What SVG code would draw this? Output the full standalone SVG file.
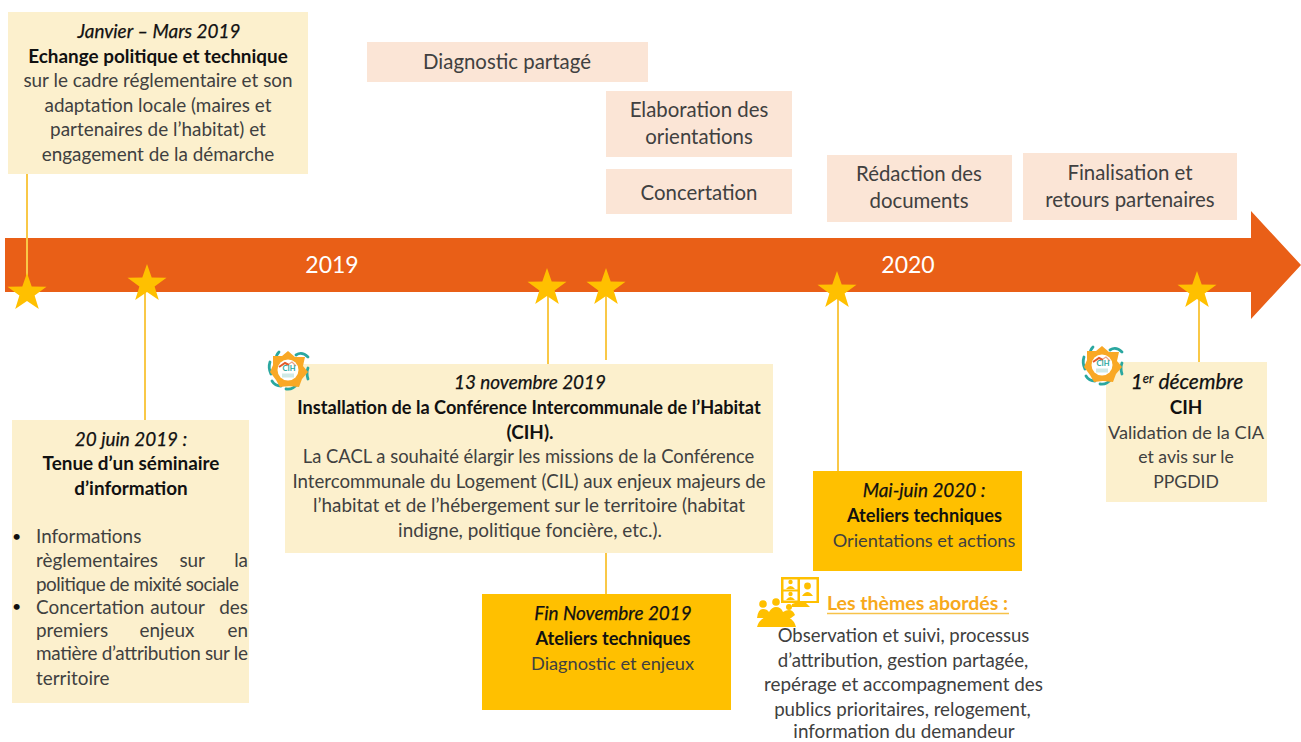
<svg xmlns="http://www.w3.org/2000/svg" xmlns:xlink="http://www.w3.org/1999/xlink" width="1301" height="742" viewBox="0 0 1301 742">
<style>
text{font-family:Lato,"Liberation Sans",sans-serif;font-size:18.9px;fill:#404040}
.c{text-anchor:middle}
.e{text-anchor:end}
.b{font-weight:700;fill:#111}
.i{font-style:italic;fill:#111;stroke:#111;stroke-width:.25px}
.y{fill:#fff}
.pk{fill:#fbe5d6}
.pt{font-size:20.4px}
.s{font-size:18.2px}
.cr{fill:#fcf0cd}
.go{fill:#ffc000}
.ln{stroke:#f9c847;stroke-width:2;fill:none}
</style>
<defs>
<polygon id="star" points="0,-20 4.7,-6.500 19.500,-6.200 7.600,2.500 11.800,16 0,8 -11.800,16 -7.600,2.500 -19.500,-6.200 -4.700,-6.500" fill="#ffc000"/>
<g id="logo">
<g fill="none" stroke="#2aa7a0" stroke-width="2.800" stroke-linecap="round">
<path d="M-9,-18Q-12,-15-12,-11"/>
<path d="M8,-15Q14,-19 20,-13"/>
<path d="M-18,-8Q-20,-2-17,4"/>
<path d="M20,-2Q18,3 20,9"/>
<path d="M-16,11Q-13,16-7,16"/>
<path d="M-2,19Q5,20 9,14"/>
</g>
<polygon points="0,-19 7,-13 17,-13 15,-4 20,2 14,9 11,17 1,16 -8,17 -12,10 -18,2 -15,-5 -15,-14 -6,-14" fill="#f9a825"/>
<circle r="10.500" fill="#fff"/>
<path d="M-9,-3L-3,-7L1,-5" fill="none" stroke="#e3592b" stroke-width="2"/>
<path d="M1,-6L4,-8L8,-4" fill="none" stroke="#e8a38a" stroke-width="1.200"/>
<text x="1" y="1" class="c" style="font-size:7.500px;font-weight:700;fill:#2aa7a0">CIH</text>
<rect x="-6" y="3.500" width="12" height="4" fill="#cfe9e6"/>
</g>
</defs>

<g id="timeline-arrow">
<path d="M5,238H1251V211L1301,265L1251,319V292H5Z" fill="#e95f17"/>
<text x="332" y="273" class="c y" style="font-size:23px;fill:#fff">2019</text>
<text x="908" y="273" class="c y" style="font-size:23px;fill:#fff">2020</text>
</g>

<g id="connectors">
<path class="ln" d="M27,174V285"/>
<path class="ln" d="M145,290V420"/>
<path class="ln" d="M548,295V364"/>
<path class="ln" d="M606,295V360"/>
<path class="ln" d="M606,552V594"/>
<path class="ln" d="M838,296V471"/>
<path class="ln" d="M1199,296V362"/>
</g>

<g id="stars">
<use xlink:href="#star" href="#star" x="27" y="293"/>
<use xlink:href="#star" href="#star" x="147" y="284"/>
<use xlink:href="#star" href="#star" x="547" y="288"/>
<use xlink:href="#star" href="#star" x="606" y="288"/>
<use xlink:href="#star" href="#star" x="837" y="291"/>
<use xlink:href="#star" href="#star" x="1197" y="291"/>
</g>

<g id="node-janvier">
<rect class="cr" x="8" y="12" width="300" height="162"/>
<text x="159" y="38" class="c i">Janvier – Mars 2019</text>
<text x="158" y="63" class="c b">Echange politique et technique</text>
<text x="158" y="87" class="c">sur le cadre réglementaire et son</text>
<text x="158" y="112" class="c">adaptation locale (maires et</text>
<text x="158" y="136" class="c">partenaires de l’habitat) et</text>
<text x="158" y="161" class="c">engagement de la démarche</text>
</g>

<g id="node-diagnostic">
<rect class="pk" x="367" y="42" width="281" height="40"/>
<text x="507" y="69" class="c pt">Diagnostic partagé</text>
</g>
<g id="node-elaboration">
<rect class="pk" x="606" y="91" width="186" height="66"/>
<text x="699" y="117" class="c pt">Elaboration des</text>
<text x="699" y="144" class="c pt">orientations</text>
</g>
<g id="node-concertation">
<rect class="pk" x="606" y="169" width="186" height="45"/>
<text x="699" y="200" class="c pt">Concertation</text>
</g>
<g id="node-redaction">
<rect class="pk" x="827" y="155" width="185" height="67"/>
<text x="919" y="181" class="c pt">Rédaction des</text>
<text x="919" y="208" class="c pt">documents</text>
</g>
<g id="node-finalisation">
<rect class="pk" x="1023" y="153" width="214" height="67"/>
<text x="1130" y="180" class="c pt">Finalisation et</text>
<text x="1130" y="207" class="c pt">retours partenaires</text>
</g>

<g id="node-juin">
<rect class="cr" x="12" y="420" width="237" height="283"/>
<text x="131" y="446" class="c i">20 juin 2019 :</text>
<text x="131" y="470" class="c b">Tenue d’un séminaire</text>
<text x="131" y="495" class="c b">d’information</text>
<text x="12" y="542" style="fill:#111;font-size:16px">•</text>
<text x="36" y="543">Informations</text>
<text x="36" y="567">règlementaires</text>
<text x="205" y="567" class="e">sur</text>
<text x="248" y="567" class="e">la</text>
<text x="36" y="591" textLength="203">politique de mixité sociale</text>
<text x="12" y="612" style="fill:#111;font-size:16px">•</text>
<text x="36" y="614">Concertation</text>
<text x="205" y="614" class="e">autour</text>
<text x="248" y="614" class="e">des</text>
<text x="36" y="637">premiers</text>
<text x="167" y="637" class="c">enjeux</text>
<text x="248" y="637" class="e">en</text>
<text x="36" y="660" textLength="212">matière d’attribution sur le</text>
<text x="36" y="685">territoire</text>
</g>

<g id="node-novembre">
<rect class="cr" x="285" y="364" width="488" height="189"/>
<text x="530" y="389" class="c i">13 novembre 2019</text>
<text x="529" y="414" class="c b" style="font-size:18.150px">Installation de la Conférence Intercommunale de l’Habitat</text>
<text x="530" y="439" class="c b">(CIH).</text>
<text x="528.500" y="463" class="c" style="font-size:18.400px">La CACL a souhaité élargir les missions de la Conférence</text>
<text x="529" y="488" class="c" style="font-size:18.700px">Intercommunale du Logement (CIL) aux enjeux majeurs de</text>
<text x="529" y="512" class="c">l’habitat et de l’hébergement sur le territoire (habitat</text>
<text x="530" y="537" class="c">indigne, politique foncière, etc.).</text>
</g>
<use id="logo-novembre" xlink:href="#logo" href="#logo" x="288" y="370"/>

<g id="node-fin-novembre">
<rect class="go" x="482" y="594" width="249" height="116"/>
<text x="613" y="620" class="c i">Fin Novembre 2019</text>
<text x="613" y="645" class="c b s">Ateliers techniques</text>
<text x="612.500" y="670" class="c s">Diagnostic et enjeux</text>
</g>

<g id="node-mai">
<rect class="go" x="813" y="471" width="209" height="100"/>
<text x="924" y="497" class="c i">Mai-juin 2020 :</text>
<text x="924.500" y="522" class="c b s">Ateliers techniques</text>
<text x="924" y="547" class="c s">Orientations et actions</text>
</g>

<g id="node-themes">
<g fill="#ffc000">
<path d="M781,577h38v26h-13l4,4h-18v-3l3,-1h-14Zm2.500,2.500v10h14v-10Zm0,12v9h14v-9Zm16.500,-12v21.500h16.500v-21.500Z" fill-rule="evenodd"/>
<circle cx="790.500" cy="582" r="2.200"/><path d="M786,589q4.500,-6 9,0Z"/>
<circle cx="790.500" cy="594" r="2.200"/><path d="M786,600q4.500,-6 9,0Z"/>
<circle cx="807.500" cy="586" r="3.400"/><path d="M802,596q5.500,-8 11,0Z"/>
<circle cx="763" cy="604" r="3.800"/><circle cx="776" cy="602" r="3.800"/><circle cx="789" cy="607" r="3"/>
<path d="M757,618q1,-9 6,-9q4,0 6,3q3,-5 7,-5q5,0 7,5q3,-2 6,-2q4,0 6,5l-4,3h-30Z"/>
<path d="M757,627q3,-12 20,-12q16,0 19,12Z"/>
</g>
<text x="827" y="610" style="fill:#f7a91c;font-weight:700;font-size:19.500px">Les thèmes abordés :</text>
<path d="M827,613.500H1009" stroke="#f7c24a" stroke-width="1.300"/>
<text x="903.500" y="642" class="c" style="font-size:18.500px">Observation et suivi, processus</text>
<text x="903" y="667" class="c" style="font-size:18.700px">d’attribution, gestion partagée,</text>
<text x="903.500" y="691" class="c">repérage et accompagnement des</text>
<text x="902.500" y="716" class="c" style="font-size:18.700px">publics prioritaires, relogement,</text>
<text x="904" y="738" class="c">information du demandeur</text>
</g>

<g id="node-decembre">
<rect class="cr" x="1106" y="362" width="161" height="140"/>
<text x="1187" y="389" class="c i" style="font-size:21px">1<tspan dy="-6" style="font-size:13px">er</tspan><tspan dy="6"> décembre</tspan></text>
<text x="1186" y="414" class="c b">CIH</text>
<text x="1186" y="439" class="c s">Validation de la CIA</text>
<text x="1186" y="463" class="c" style="font-size:17.600px">et avis sur le</text>
<text x="1186" y="488" class="c" style="font-size:17.600px">PPGDID</text>
</g>
<use id="logo-decembre" xlink:href="#logo" href="#logo" x="1102" y="365"/>
</svg>
